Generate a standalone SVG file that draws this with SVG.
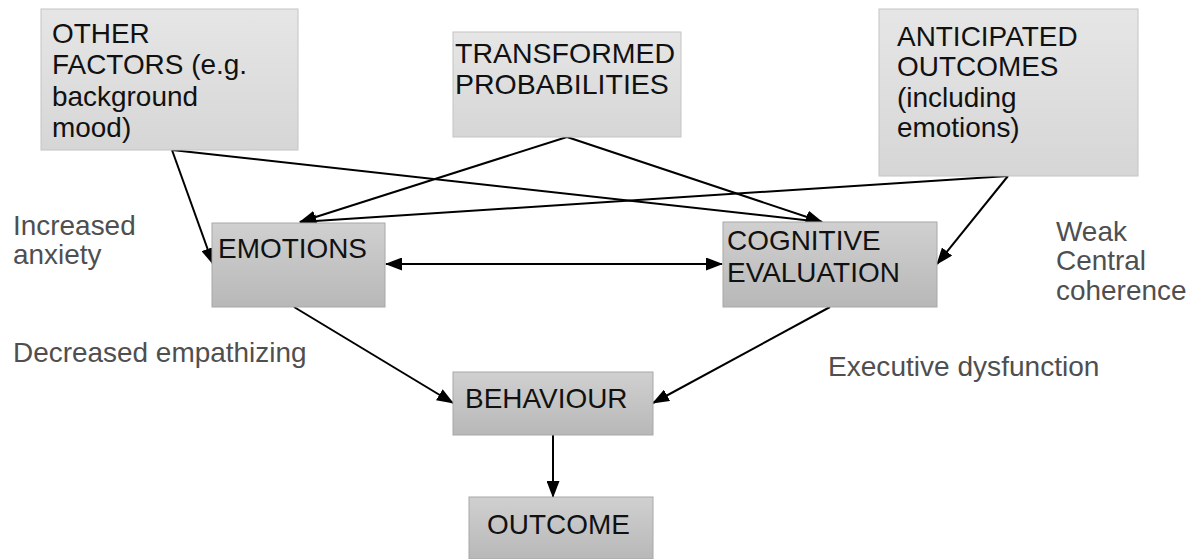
<svg xmlns="http://www.w3.org/2000/svg" width="1194" height="559" viewBox="0 0 1194 559">
  <defs>
    <linearGradient id="gradLight" x1="0" y1="0" x2="0" y2="1">
      <stop offset="0" stop-color="#e6e6e6"/>
      <stop offset="1" stop-color="#d6d6d6"/>
    </linearGradient>
    <linearGradient id="gradDark" x1="0" y1="0" x2="0" y2="1">
      <stop offset="0" stop-color="#d0d0d0"/>
      <stop offset="1" stop-color="#b8b8b8"/>
    </linearGradient>
    <marker id="arrow" viewBox="0 0 17 13" refX="16" refY="6.5" markerWidth="17" markerHeight="13" markerUnits="userSpaceOnUse" orient="auto-start-reverse">
      <path d="M0,0 L17,6.5 L0,13 z" fill="#000"/>
    </marker>
    <style>
      .boxL { fill: url(#gradLight); stroke: #c4c4c4; stroke-width: 1; }
      .boxD { fill: url(#gradDark); stroke: #a8a8a8; stroke-width: 1; }
      .lbl { font-family: "Liberation Sans", Arial, sans-serif; font-size: 27px; fill: #111; }
      .big { font-size: 28.5px; }
      .side { font-family: "Liberation Sans", Arial, sans-serif; font-size: 27px; fill: #4f4f4f; }
      .edge { stroke: #000; stroke-width: 2; fill: none; marker-end: url(#arrow); }
    </style>
  </defs>

  <rect width="1194" height="559" fill="#fff"/>

  <!-- connectors -->
  <g id="connectors">
    <line class="edge" x1="172" y1="150" x2="213" y2="264"/>
    <line class="edge" x1="172" y1="150" x2="822" y2="222"/>
    <line class="edge" x1="567" y1="137" x2="300" y2="222"/>
    <line class="edge" x1="567" y1="137" x2="822" y2="222"/>
    <line class="edge" x1="1008" y1="176" x2="300" y2="222"/>
    <line class="edge" x1="1008" y1="176" x2="937" y2="264"/>
    <line class="edge" x1="386" y1="264" x2="722" y2="264" marker-start="url(#arrow)"/>
    <line class="edge" x1="294" y1="307" x2="453" y2="403"/>
    <line class="edge" x1="830" y1="307" x2="653" y2="403"/>
    <line class="edge" x1="553" y1="435" x2="553" y2="497"/>
  </g>

  <!-- nodes -->
  <g id="other-factors">
    <rect class="boxL" x="41" y="9" width="257" height="141"/>
    <text class="lbl" transform="translate(52,43) scale(1.035,1)">
      <tspan x="0" y="0">OTHER</tspan>
      <tspan x="0" y="31.5">FACTORS (e.g.</tspan>
      <tspan x="0" y="63">background</tspan>
      <tspan x="0" y="94.5">mood)</tspan>
    </text>
  </g>

  <g id="transformed-probabilities">
    <rect class="boxL" x="453" y="32" width="228" height="105"/>
    <text class="lbl big" x="455" y="62.5">TRANSFORMED<tspan x="455" y="93.5">PROBABILITIES</tspan></text>
  </g>

  <g id="anticipated-outcomes">
    <rect class="boxL" x="879" y="9" width="259" height="167"/>
    <text class="lbl" transform="translate(897,46) scale(1.035,1)">
      <tspan x="0" y="0">ANTICIPATED</tspan>
      <tspan x="0" y="30.5">OUTCOMES</tspan>
      <tspan x="0" y="61">(including</tspan>
      <tspan x="0" y="91.5">emotions)</tspan>
    </text>
  </g>

  <g id="emotions">
    <rect class="boxD" x="212" y="223" width="173" height="84"/>
    <text class="lbl" transform="translate(218,257.5) scale(1.035,1)">EMOTIONS</text>
  </g>

  <g id="cognitive-evaluation">
    <rect class="boxD" x="723" y="222" width="214" height="85"/>
    <text class="lbl" transform="translate(727,250) scale(1.035,1)">
      <tspan x="0" y="0">COGNITIVE</tspan>
      <tspan x="0" y="32.5">EVALUATION</tspan>
    </text>
  </g>

  <g id="behaviour">
    <rect class="boxD" x="453" y="372" width="200" height="63"/>
    <text class="lbl" transform="translate(465,407.5) scale(1.035,1)">BEHAVIOUR</text>
  </g>

  <g id="outcome">
    <rect class="boxD" x="469" y="497" width="184" height="62"/>
    <text class="lbl" transform="translate(487,534) scale(1.035,1)">OUTCOME</text>
  </g>

  <!-- side annotations -->
  <g id="annotations">
    <text class="side" transform="translate(13,235) scale(1.035,1)">
      <tspan x="0" y="0">Increased</tspan>
      <tspan x="0" y="29.5">anxiety</tspan>
    </text>
    <text class="side" transform="translate(13,362) scale(1.035,1)">Decreased empathizing</text>
    <text class="side" transform="translate(1056,240.5) scale(1.035,1)">
      <tspan x="0" y="0">Weak</tspan>
      <tspan x="0" y="30">Central</tspan>
      <tspan x="0" y="60">coherence</tspan>
    </text>
    <text class="side" transform="translate(828,376) scale(1.04,1)">Executive dysfunction</text>
  </g>
</svg>
